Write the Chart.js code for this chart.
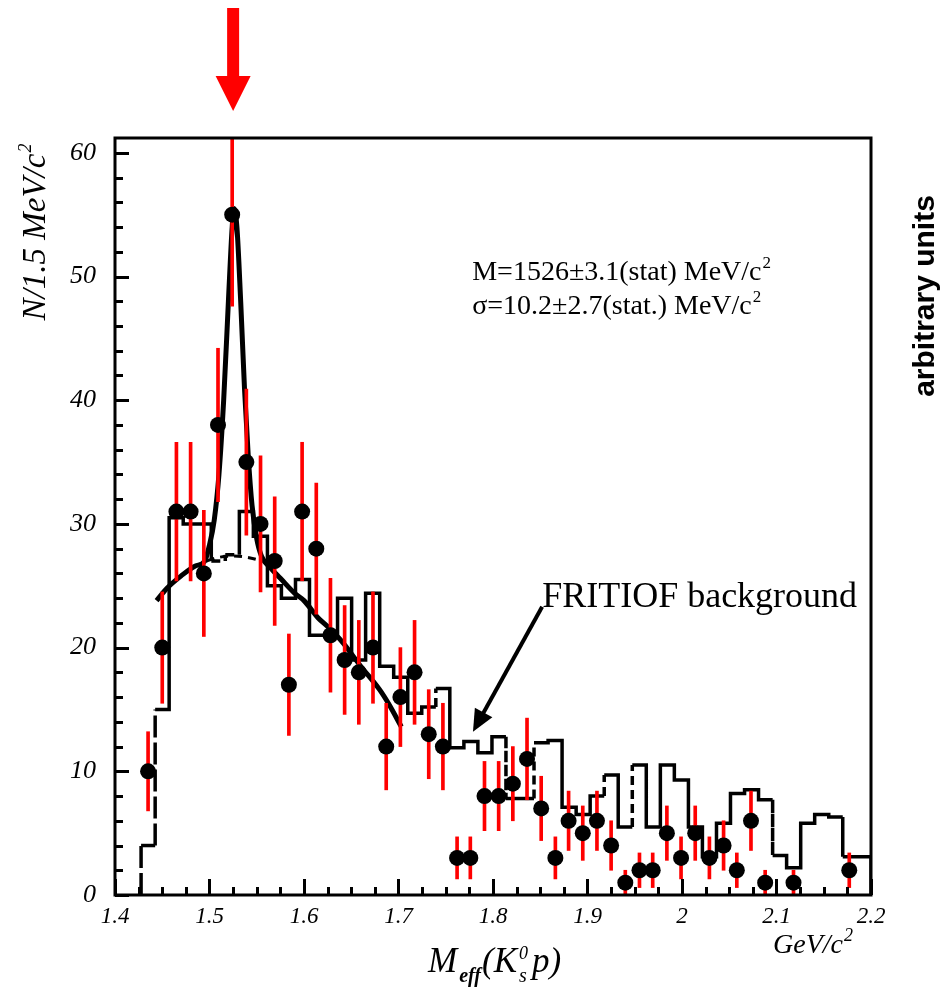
<!DOCTYPE html>
<html><head><meta charset="utf-8">
<script src="https://cdn.jsdelivr.net/npm/chart.js@4.4.0/dist/chart.umd.min.js"></script>
<style>html,body{margin:0;padding:0;background:#fff;}#wrap{width:947px;height:990px;position:relative;}</style>
</head><body><div id="wrap"><canvas id="c" width="947" height="990"></canvas></div>
<script>
// ---- data ----
const massCenters = [1.435,1.450,1.465,1.480,1.494,1.509,1.524,1.539,1.554,1.569,1.584,1.598,1.613,1.628,1.643,1.658,1.673,1.687,1.702,1.717,1.732,1.747,1.762,1.776,1.791,1.806,1.821,1.836,1.851,1.866,1.880,1.895,1.910,1.925,1.940,1.955,1.969,1.984,1.999,2.014,2.029,2.044,2.058,2.073,2.088,2.118,2.177];
const counts = [10,20,31,31,26,38,55,35,30,27,17,31,28,21,19,18,20,12,16,18,13,12,3,3,8,8,9,11,7,3,6,5,6,4,1,2,2,5,3,5,3,4,2,6,1,1,2];
const countErrors = [3.2,4.5,5.6,5.6,5.1,6.2,7.4,5.9,5.5,5.2,4.1,5.6,5.3,4.6,4.4,4.2,4.5,3.5,4.0,4.2,3.6,3.5,1.7,1.7,2.8,2.8,3.0,3.3,2.6,1.7,2.4,2.2,2.4,2.0,1.0,1.4,1.4,2.2,1.7,2.2,1.7,2.0,1.4,2.4,1.0,1.0,1.4];

const histEdges = [1.4276,1.4425,1.4573,1.4722,1.4870,1.5019,1.5167,1.5316,1.5464,1.5613,1.5761,1.5910,1.6058,1.6207,1.6355,1.6504,1.6652,1.6801,1.6949,1.7098,1.7246,1.7395,1.7543,1.7692,1.7840,1.7989,1.8137,1.8286,1.8434,1.8583,1.8731,1.8880,1.9028,1.9177,1.9325,1.9474,1.9622,1.9771,1.9919,2.0068,2.0216,2.0365,2.0513,2.0662,2.0810,2.0959,2.1107,2.1256,2.1404,2.1553,2.1701,2.1850,2.2000];
const histValues = [4,15,30.5,30,30,27,27.5,31,29,25,24,25.5,21,21,24,19,24.4,18.5,17.6,14.7,15.2,16.7,11.9,12.4,11.5,12.8,7.8,7.8,12.3,12.5,7.1,6.5,8,9.7,5.5,10.5,5.5,10.5,9.3,5.5,3.1,5.8,8.2,8.5,7.7,3.2,2.2,5.8,6.5,6.3,3.1,3.1];

const fitX = [1.444,1.455,1.470,1.485,1.495,1.500,1.505,1.510,1.515,1.520,1.524,1.526,1.529,1.533,1.537,1.541,1.545,1.550,1.555,1.565,1.575,1.590,1.600,1.615,1.625,1.640,1.660,1.680,1.690,1.703];
const fitY = [23.8,24.8,25.8,26.6,27.0,28.3,30.3,34.0,40.0,48.0,54.0,55.5,54.0,48.0,41.0,35.5,31.5,28.8,27.4,26.4,25.6,24.4,23.8,22.4,21.7,20.5,18.5,16.6,15.4,13.6];

const bgX = [1.497,1.510,1.525,1.540,1.556];
const bgY = [27.0,27.3,27.4,27.3,27.0];

const xTickValues = [1.4,1.5,1.6,1.7,1.8,1.9,2.0,2.1,2.2];
const xTickLabels = ['1.4','1.5','1.6','1.7','1.8','1.9','2','2.1','2.2'];
const yTickValues = [0,10,20,30,40,50,60];
const yTickLabels = ['0','10','20','30','40','50','60'];

const arrowAt = 1.525;
const massText = 'M=1526±3.1(stat) MeV/c';
const sigmaText = 'σ=10.2±2.7(stat.) MeV/c';
const bgLabel = 'FRITIOF background';

// ---- styling helpers ----
const dashedEdgesLong = [0,1];
const dashedEdges = [21,26,28,33,35,45,50];
const dashedBins = [5,6];

const histPoints = [{x: histEdges[0], y: 0}];
for (let k = 0; k < histValues.length; k++) {
  histPoints.push({x: histEdges[k], y: histValues[k]});
  histPoints.push({x: histEdges[k+1], y: histValues[k]});
}
histPoints.push({x: histEdges[histEdges.length-1], y: 0});

const SERIF = '"Liberation Serif", "DejaVu Serif", serif';

function drawParts(ctx, x, y, parts) {
  let cx = x;
  for (const p of parts) {
    ctx.font = p.font;
    ctx.fillText(p.t, cx, y + (p.dy || 0));
    if (!p.stay) cx += ctx.measureText(p.t).width + (p.gap || 0);
  }
  return cx;
}
function partsWidth(ctx, parts) {
  let w = 0;
  for (const p of parts) { ctx.font = p.font; if (!p.stay) w += ctx.measureText(p.t).width + (p.gap || 0); }
  return w;
}

const decor = {
  id: 'decor',
  afterDraw(chart) {
    const ctx = chart.ctx, xs = chart.scales.x, ys = chart.scales.y;
    const {left, right, top, bottom} = chart.chartArea;
    ctx.save();
    ctx.strokeStyle = '#000'; ctx.lineWidth = 3;
    ctx.strokeRect(left, top, right - left, bottom - top);
    // ticks (inward)
    ctx.lineWidth = 3;
    ctx.beginPath();
    for (let v = 1.4; v <= 2.2001; v += 0.025) {
      const px = Math.round(xs.getPixelForValue(v)) + 0.5;
      const major = Math.abs(v * 10 - Math.round(v * 10)) < 1e-6;
      ctx.moveTo(px, bottom); ctx.lineTo(px, bottom - (major ? 16 : 8));
    }
    for (let v = 0; v <= 60.001; v += 2) {
      const py = Math.round(ys.getPixelForValue(v)) + 0.5;
      const major = v % 10 === 0;
      ctx.moveTo(left, py); ctx.lineTo(left + (major ? 14 : 8), py);
    }
    ctx.stroke();

    // red arrow at the peak
    const ax = xs.getPixelForValue(arrowAt);
    ctx.fillStyle = '#ff0000';
    ctx.fillRect(ax - 6, 8, 12, 69);
    ctx.beginPath(); ctx.moveTo(ax - 17.5, 76); ctx.lineTo(ax + 17.5, 76); ctx.lineTo(ax, 111); ctx.closePath(); ctx.fill();

    // fit results text
    ctx.fillStyle = '#000';
    ctx.textBaseline = 'alphabetic'; ctx.textAlign = 'left';
    const tx = xs.getPixelForValue(1.778);
    const f28 = '28px ' + SERIF, f17 = '17px ' + SERIF;
    drawParts(ctx, tx, ys.getPixelForValue(49.7), [{t: massText, font: f28, gap: 1}, {t: '2', font: f17, dy: -12}]);
    drawParts(ctx, tx, ys.getPixelForValue(47.0), [{t: sigmaText, font: f28, gap: 1}, {t: '2', font: f17, dy: -12}]);

    // FRITIOF label and arrow
    const lx = xs.getPixelForValue(1.852), ly = ys.getPixelForValue(23.3);
    ctx.font = '36px ' + SERIF;
    ctx.fillText(bgLabel, lx, ly);
    const tipX = xs.getPixelForValue(1.7788), tipY = ys.getPixelForValue(13.2);
    const dx = tipX - lx, dy = tipY - ly, L = Math.hypot(dx, dy), ux = dx / L, uy = dy / L;
    const bx = tipX - 22 * ux, by = tipY - 22 * uy;
    ctx.lineWidth = 4; ctx.lineCap = 'butt';
    ctx.beginPath(); ctx.moveTo(lx, ly); ctx.lineTo(bx + 4 * ux, by + 4 * uy); ctx.stroke();
    ctx.beginPath(); ctx.moveTo(tipX, tipY); ctx.lineTo(bx - 10 * uy, by + 10 * ux); ctx.lineTo(bx + 10 * uy, by - 10 * ux); ctx.closePath(); ctx.fill();

    // axis titles
    const it34 = 'italic 35px ' + SERIF, it20 = 'italic 20px ' + SERIF, it18 = 'italic 18px ' + SERIF;
    drawParts(ctx, 428, 972, [
      {t: 'M', font: it34, gap: 2}, {t: 'eff', font: 'italic bold 20px ' + SERIF, dy: 10, gap: 1},
      {t: '(K', font: it34, gap: 2}, {t: 's', font: it20, dy: 10, stay: true}, {t: '0', font: it18, dy: -13, gap: 4},
      {t: 'p)', font: it34}
    ]);
    drawParts(ctx, 773, 953, [{t: 'GeV/c', font: 'italic 28px ' + SERIF, gap: 1}, {t: '2', font: it18, dy: -12}]);

    // y title (rotated)
    ctx.save();
    ctx.translate(45, 232); ctx.rotate(-Math.PI / 2);
    const yParts = [{t: 'N/1.5 MeV/c', font: 'italic 33px ' + SERIF, gap: 1}, {t: '2', font: it18, dy: -14}];
    drawParts(ctx, -partsWidth(ctx, yParts) / 2, 0, yParts);
    ctx.restore();

    // right side title (rotated)
    ctx.save();
    ctx.translate(934, 296); ctx.rotate(-Math.PI / 2);
    ctx.font = 'bold 30px "Liberation Sans", Arial, sans-serif';
    ctx.textAlign = 'center';
    ctx.fillText('arbitrary units', 0, 0);
    ctx.restore();
    ctx.restore();
  }
};

new Chart(document.getElementById('c'), {
  type: 'line',
  data: {
    datasets: [
      {
        label: 'data', data: massCenters.map((x, i) => ({x, y: counts[i]})),
        showLine: false, pointRadius: 8, pointHoverRadius: 8, pointBackgroundColor: '#000', pointBorderColor: '#000', pointBorderWidth: 0, order: 0
      },
      {
        type: 'bar', label: 'errors',
        data: massCenters.map((x, i) => ({x, y: [counts[i] - countErrors[i], counts[i] + countErrors[i]]})),
        backgroundColor: '#ff0000', borderWidth: 0, barThickness: 3, grouped: false, order: 1
      },
      {
        label: 'fit', data: fitX.map((x, i) => ({x, y: fitY[i]})),
        borderColor: '#000', borderWidth: 5, pointRadius: 0, cubicInterpolationMode: 'monotone', fill: false, order: 2
      },
      {
        label: 'background', data: bgX.map((x, i) => ({x, y: bgY[i]})),
        borderColor: '#000', borderWidth: 3, borderDash: [8, 6], pointRadius: 0, cubicInterpolationMode: 'monotone', fill: false, order: 3
      },
      {
        label: 'FRITIOF', data: histPoints,
        borderColor: '#000', borderWidth: 3.5, pointRadius: 0, tension: 0, fill: false, order: 4, borderJoinStyle: 'miter',
        segment: {
          borderDash: c => {
            const i = c.p0DataIndex;
            if (i % 2 === 0) {
              const e = i / 2;
              if (dashedEdgesLong.includes(e)) return [22, 5];
              if (dashedEdges.includes(e)) return [9, 5];
              return undefined;
            }
            const b = (i - 1) / 2;
            return dashedBins.includes(b) ? [9, 5] : undefined;
          }
        }
      }
    ]
  },
  options: {
    responsive: false, animation: false, devicePixelRatio: 1,
    layout: {padding: {top: 138, right: 76, left: 0, bottom: 0}},
    plugins: {legend: {display: false}, tooltip: {enabled: false}},
    events: [],
    scales: {
      x: {
        type: 'linear', min: 1.4, max: 2.2, offset: false,
        grid: {display: false, drawTicks: false}, border: {display: false},
        afterBuildTicks: s => { s.ticks = xTickValues.map(v => ({value: v})); },
        afterFit: s => { s.height = 95; },
        ticks: {
          callback: (v, i) => xTickLabels[i], autoSkip: false, maxRotation: 0, padding: 8, color: '#000',
          font: {family: SERIF, style: 'italic', size: 23}
        }
      },
      y: {
        type: 'linear', min: 0, max: 61.2,
        grid: {display: false, drawTicks: false}, border: {display: false},
        afterBuildTicks: s => { s.ticks = yTickValues.map(v => ({value: v})); },
        afterFit: s => { s.width = 115; },
        ticks: {
          callback: (v, i) => yTickLabels[i], autoSkip: false, padding: 19, color: '#000',
          font: {family: SERIF, style: 'italic', size: 26}
        }
      }
    }
  },
  plugins: [decor]
});
</script></body></html>
